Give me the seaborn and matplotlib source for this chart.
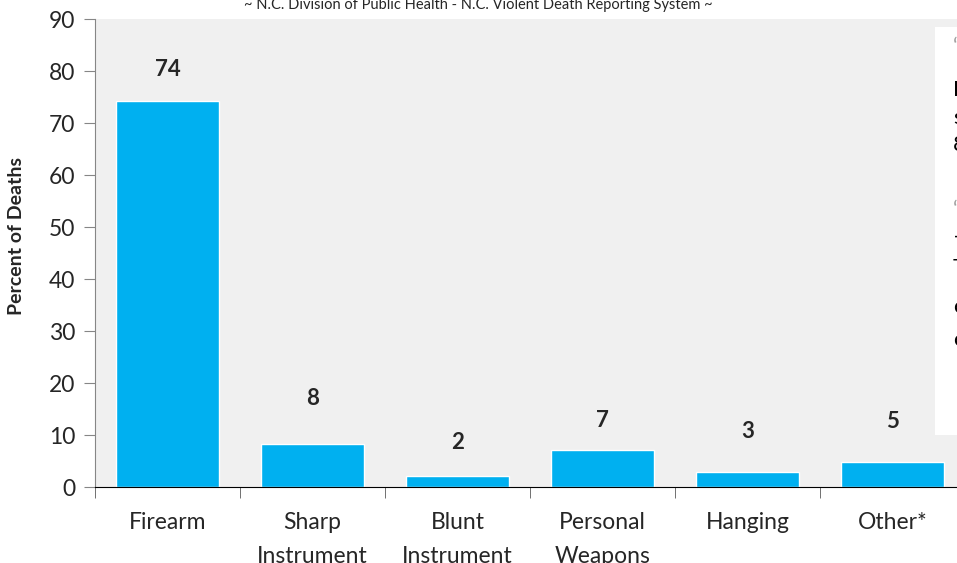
import matplotlib
matplotlib.use("Agg")
import matplotlib.pyplot as plt
import seaborn as sns

categories = ["Firearm", "Sharp\nInstrument", "Blunt\nInstrument",
              "Personal\nWeapons", "Hanging", "Other*"]
percent = [74.2, 8.2, 2.2, 7.1, 2.9, 4.8]
percent_labels = ["74", "8", "2", "7", "3", "5"]
yticks = [0, 10, 20, 30, 40, 50, 60, 70, 80, 90]

# how far above each bar its number sits (data units)
label_gap = [6.0, 8.9, 6.3, 5.6, 7.7, 7.7]

source = "~ N.C. Division of Public Health - N.C. Violent Death Reporting System ~"
side_lines = ["\u2018", "Firearms", "self-inflicted", "84%", "",
              "\u2018", "\u2013", "The", "children", "crime"]
side_colors = ["#a0a0a0", "k", "k", "k", "k", "#a0a0a0", "k", "k", "k", "k"]


def main():
    sns.set_style("white", {"axes.facecolor": "#F0F0F0"})
    plt.rcParams["font.family"] = ["Lato", "DejaVu Sans"]

    fig = plt.figure(figsize=(9.57, 5.63), dpi=100)
    ax = fig.add_axes([95 / 957, 76 / 563, 870 / 957, 468 / 563])

    sns.barplot(x=categories, y=percent, color="#00B0F0", saturation=1,
                width=0.71, ax=ax)

    for i, (v, lab) in enumerate(zip(percent, percent_labels)):
        ax.text(i, v + label_gap[i], lab, ha="center", va="center",
                fontsize=16, fontweight="bold")

    ax.set_xlim(-0.5, 5.5)
    ax.set_ylim(0, 90)
    ax.set_yticks(yticks)
    ax.set_ylabel("Percent of Deaths", fontsize=14, fontweight="bold",
                  va="center")
    ax.yaxis.set_label_coords(-0.0897, 0.537)
    ax.set_xlabel("")

    for s in ["top", "right"]:
        ax.spines[s].set_visible(False)
    ax.spines["left"].set_color("#868686")
    ax.spines["bottom"].set_color("black")

    ax.tick_params(axis="y", length=8, color="#868686", labelsize=16.5,
                   pad=6, left=True, direction="out")
    ax.tick_params(axis="x", which="major", length=0, labelsize=16.5,
                   pad=18)
    ax.set_xticks([i - 0.5 for i in range(6)], minor=True)
    ax.tick_params(axis="x", which="minor", length=8, color="#595959",
                   bottom=True, direction="out")
    for t in ax.get_xticklabels():
        t.set_linespacing(1.75)

    fig.text(0.5, 0.991, source, ha="center", va="center", fontsize=10.5)

    box = plt.Rectangle((935 / 957, 128 / 563), 0.1, 408 / 563,
                        transform=fig.transFigure, facecolor="white",
                        edgecolor="none", zorder=5)
    fig.add_artist(box)
    ys = [47, 90, 118, 145, 178, 210, 237, 268, 307, 340]
    for y, line, c in zip(ys, side_lines, side_colors):
        fig.text(953 / 957, 1 - y / 563, line, ha="left", va="center",
                 fontsize=16, color=c, zorder=6)

    fig.savefig("out.png", dpi=100)


if __name__ == "__main__":
    main()
